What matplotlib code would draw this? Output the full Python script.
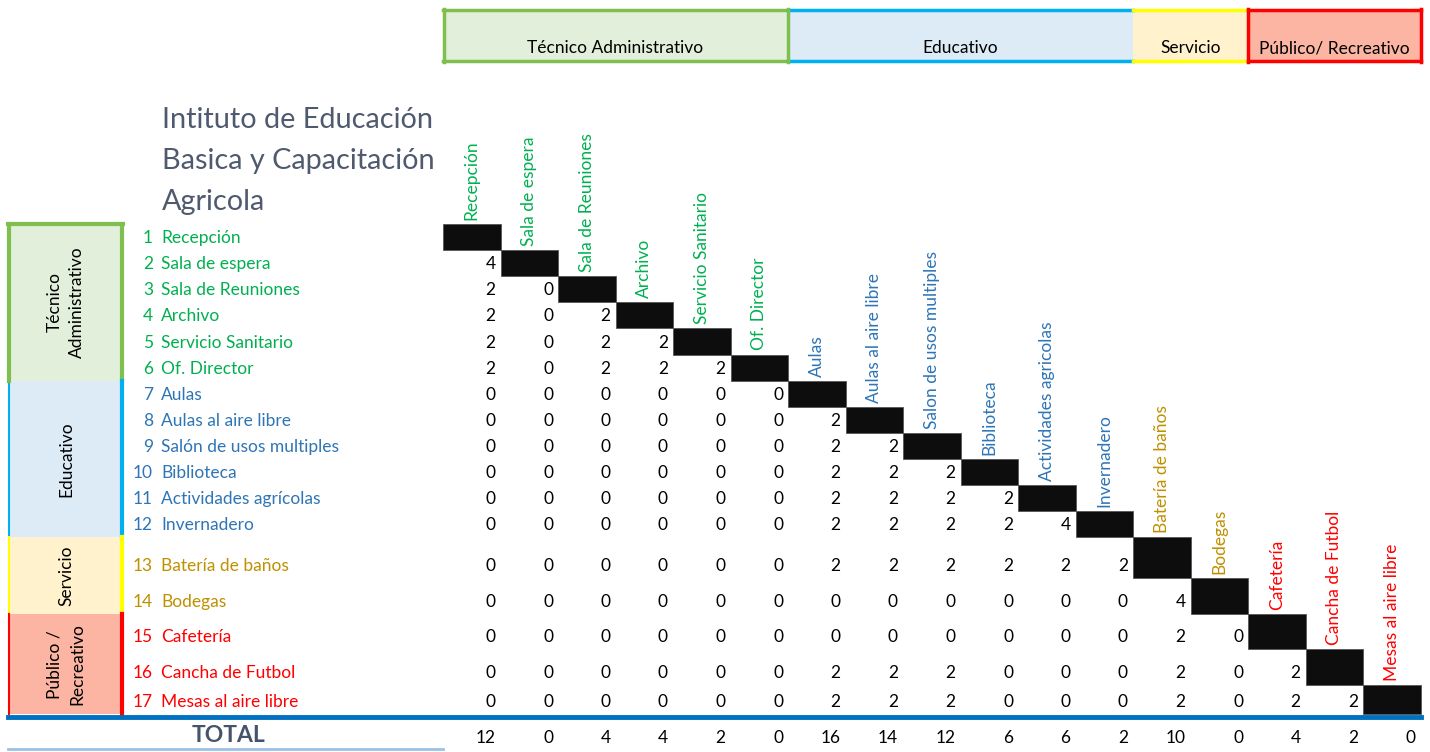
import matplotlib
matplotlib.use("Agg")
import matplotlib.pyplot as plt
from matplotlib.patches import Rectangle
import numpy as np

# --- data -------------------------------------------------------------
spaces = ["Recepción", "Sala de espera", "Sala de Reuniones", "Archivo",
          "Servicio Sanitario", "Of. Director", "Aulas", "Aulas al aire libre",
          "Salón de usos multiples", "Biblioteca", "Actividades agrícolas",
          "Invernadero", "Batería de baños", "Bodegas", "Cafetería",
          "Cancha de Futbol", "Mesas al aire libre"]
col_labels = ["Recepción", "Sala de espera", "Sala de Reuniones", "Archivo",
              "Servicio Sanitario", "Of. Director", "Aulas", "Aulas al aire libre",
              "Salon de usos multiples", "Biblioteca", "Actividades agricolas",
              "Invernadero", "Batería de baños", "Bodegas", "Cafetería",
              "Cancha de Futbol", "Mesas al aire libre"]

# lower triangle of the relation matrix, row by row
relations = [
    [],
    [4],
    [2, 0],
    [2, 0, 2],
    [2, 0, 2, 2],
    [2, 0, 2, 2, 2],
    [0, 0, 0, 0, 0, 0],
    [0, 0, 0, 0, 0, 0, 2],
    [0, 0, 0, 0, 0, 0, 2, 2],
    [0, 0, 0, 0, 0, 0, 2, 2, 2],
    [0, 0, 0, 0, 0, 0, 2, 2, 2, 2],
    [0, 0, 0, 0, 0, 0, 2, 2, 2, 2, 4],
    [0, 0, 0, 0, 0, 0, 2, 2, 2, 2, 2, 2],
    [0, 0, 0, 0, 0, 0, 0, 0, 0, 0, 0, 0, 4],
    [0, 0, 0, 0, 0, 0, 0, 0, 0, 0, 0, 0, 2, 0],
    [0, 0, 0, 0, 0, 0, 2, 2, 2, 0, 0, 0, 2, 0, 2],
    [0, 0, 0, 0, 0, 0, 2, 2, 2, 0, 0, 0, 2, 0, 2, 2],
]
# totals as printed in the sheet
totals = [12, 0, 4, 4, 2, 0, 16, 14, 12, 6, 6, 2, 10, 0, 4, 2, 0]

groups = ["Técnico Administrativo", "Educativo", "Servicio", "Público/ Recreativo"]
side_labels = ["Técnico\nAdministrativo", "Educativo", "Servicio", "Público /\nRecreativo"]
group_sizes = [6, 6, 2, 3]
text_colors = ["#00B050", "#2E75B6", "#BF9000", "#FF0000"]
fill_colors = ["#E2EFDA", "#DDEBF7", "#FFF2CC", "#FCB5A2"]
edge_colors = ["#7FBF4D", "#00B0F0", "#FFFF00", "#FF0000"]

title_lines = ["Intituto de Educación", "Basica y Capacitación", "Agricola"]

# --- layout -----------------------------------------------------------
n = len(spaces)
group_of = np.repeat(np.arange(len(groups)), group_sizes)

x0, cw = 443, 57.5
row_h = [26.1] * 12 + [41, 36, 35, 36, 29]
y_edges = 224 + np.concatenate([[0], np.cumsum(row_h)])

plt.rcParams['font.family'] = ['Lato', 'DejaVu Sans']
fig = plt.figure(figsize=(14.3, 7.52), dpi=100)
ax = fig.add_axes([0, 0, 1, 1])
ax.set_xlim(0, 1430)
ax.set_ylim(752, 0)
ax.axis("off")

fs = 12.5

# header bands
for g in range(len(groups)):
    cols = np.where(group_of == g)[0]
    left, right = x0 + cols[0] * cw, x0 + (cols[-1] + 1) * cw
    ax.add_patch(Rectangle((left, 9), right - left, 53, facecolor=fill_colors[g],
                           edgecolor="none"))
    ax.plot([left, right], [10, 10], color=edge_colors[g], lw=2.5)
    ax.plot([left, right], [61, 61], color=edge_colors[g], lw=2.5)
    ax.text((left + right) / 2, 48, groups[g], ha="center", va="center",
            fontsize=fs, color="black")
ax.plot([x0 + 1, x0 + 1], [9, 62], color=edge_colors[0], lw=2.5)
ax.plot([x0 + 6 * cw, x0 + 6 * cw], [9, 62], color=edge_colors[0], lw=2.5)
ax.plot([x0 + 14 * cw, x0 + 14 * cw], [9, 62], color=edge_colors[3], lw=2.5)
ax.plot([x0 + 17 * cw, x0 + 17 * cw], [9, 62], color=edge_colors[3], lw=2.5)

# title
for k, line in enumerate(title_lines):
    ax.text(162, 120 + k * 41, line, ha="left", va="center", fontsize=20.8,
            color="#4F5A6E")

# side group boxes
for g in range(len(groups)):
    rows = np.where(group_of == g)[0]
    top, bot = y_edges[rows[0]], y_edges[rows[-1] + 1]
    ax.add_patch(Rectangle((8, top), 115, bot - top, facecolor=fill_colors[g],
                           edgecolor="none"))
    ax.plot([9, 9], [top, bot], color=edge_colors[g], lw=1.5)
    ax.plot([122, 122], [top, bot], color=edge_colors[g], lw=3)
    ax.text(66, (top + bot) / 2, side_labels[g], rotation=90, ha="center",
            va="center", fontsize=fs, color="black", linespacing=1.5)
ax.plot([8, 123], [224, 224], color=edge_colors[0], lw=3)
ax.plot([9, 9], [224, y_edges[6]], color=edge_colors[0], lw=3)

# rows, diagonal and values
for i in range(n):
    top, bot = y_edges[i], y_edges[i + 1]
    yc = bot - 12
    c = text_colors[group_of[i]]
    ax.text(153, yc, str(i + 1), ha="right", va="center", fontsize=fs, color=c)
    ax.text(161, yc, spaces[i], ha="left", va="center", fontsize=fs, color=c)
    ax.add_patch(Rectangle((x0 + i * cw, top), cw, bot - top, facecolor="#0D0D0D",
                           edgecolor="#555555", lw=0.6))
    ax.text(x0 + i * cw + cw / 2, top - 4, col_labels[i], rotation=90,
            ha="center", va="bottom", fontsize=fs, color=c)
    for j, v in enumerate(relations[i]):
        ax.text(x0 + (j + 1) * cw - 5, yc, str(v), ha="right",
                va="center", fontsize=fs, color="black")

# totals
ax.plot([8, 1421], [717, 717], color="#0070C0", lw=3.5)
ax.text(228, 735, "TOTAL", ha="center", va="center", fontsize=16.5,
        fontweight="bold", color="#44546A")
ax.plot([8, 443], [749, 749], color="#9BC2E6", lw=2)
for j in range(n):
    ax.text(x0 + (j + 1) * cw - 5, 738, str(totals[j]), ha="right", va="center",
            fontsize=fs, color="black")

fig.savefig("out.png", dpi=100)
